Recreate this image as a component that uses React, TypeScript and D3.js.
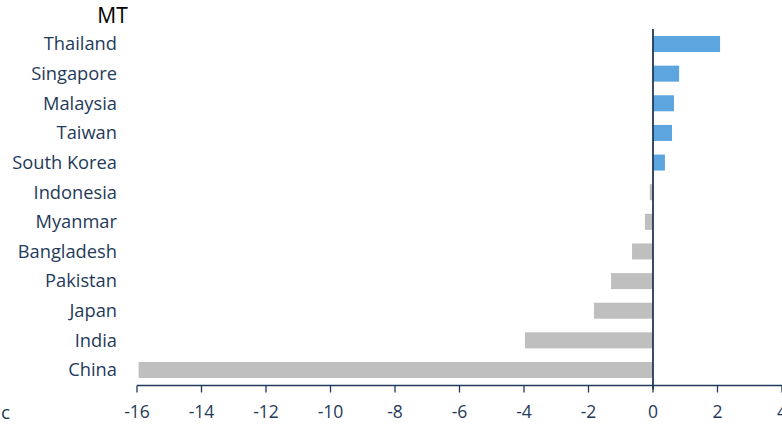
import React from "react";
import * as d3 from "d3";

const categories = ["Thailand", "Singapore", "Malaysia", "Taiwan", "South Korea", "Indonesia", "Myanmar", "Bangladesh", "Pakistan", "Japan", "India", "China"];
const values = [2.08, 0.81, 0.65, 0.59, 0.37, -0.1, -0.25, -0.65, -1.3, -1.83, -3.97, -15.95];
const ticks = [-16, -14, -12, -10, -8, -6, -4, -2, 0, 2, 4];

const W = 782, H = 426;
const FONT = "'Open Sans', sans-serif";
const NAVY = "#1f3a5a";

export default function App() {
  const x = d3.scaleLinear().domain([-16, 4]).range([137, 782]);
  const y = d3.scaleBand<string>().domain(categories).range([29.2, 384.8]).paddingInner(0.46).paddingOuter(0.23);
  const axisY = 385.5;
  return (
    <svg width={W} height={H} style={{ position: "absolute", left: 0, top: 0, fontFamily: FONT }}>
      <rect width={W} height={H} fill="#fff" />
      <text x={112.5} y={23} fontSize={21} fill="#000" textAnchor="middle">MT</text>
      {categories.map((c, i) => {
        const v = values[i];
        const x0 = x(Math.min(0, v));
        const x1 = x(Math.max(0, v));
        return (
          <g key={c}>
            <rect x={x0} y={y(c)!} width={x1 - x0} height={y.bandwidth()} fill={v >= 0 ? "#5da5df" : "#bfbfbf"} />
            <text x={117} y={y(c)! + y.bandwidth() / 2} dy="0.35em" textAnchor="end" fontSize={18.3} fill={NAVY}>{c}</text>
          </g>
        );
      })}
      <line x1={x(-16)} x2={W} y1={axisY} y2={axisY} stroke={NAVY} strokeWidth={1.5} />
      {ticks.map((t) => (
        <g key={t}>
          <line x1={x(t)} x2={x(t)} y1={axisY} y2={axisY + 7} stroke={NAVY} strokeWidth={1.3} />
          <text x={x(t)} y={412} dy="0.35em" textAnchor="middle" fontSize={17.5} fill={NAVY}>{t}</text>
        </g>
      ))}
      <line x1={x(0)} x2={x(0)} y1={29} y2={axisY + 4} stroke={NAVY} strokeWidth={1.8} />
      <text x={1} y={412} dy="0.35em" fontSize={19} fill={NAVY}>c</text>
    </svg>
  );
}
